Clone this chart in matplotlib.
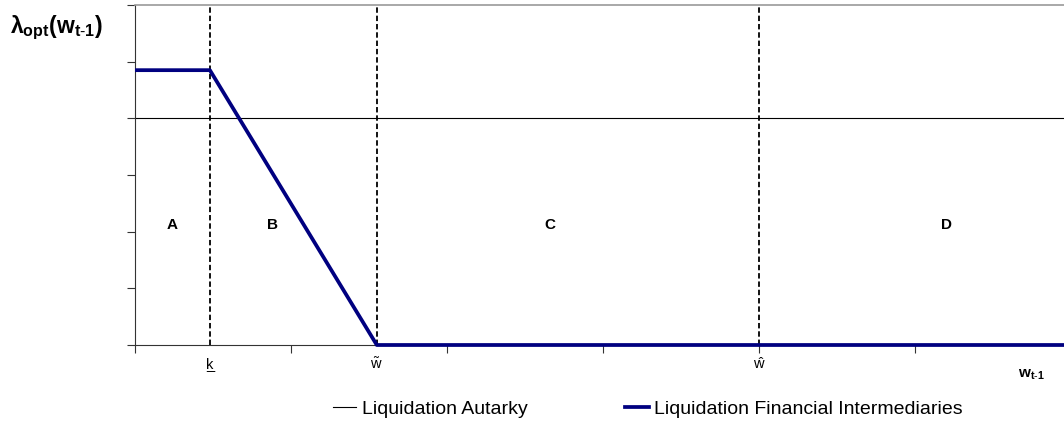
import matplotlib.pyplot as plt
import matplotlib.lines as mlines

plt.rcParams['font.family'] = ['Liberation Sans', 'DejaVu Sans']
plt.rcParams['mathtext.fontset'] = 'custom'
plt.rcParams['mathtext.rm'] = 'Liberation Sans'
plt.rcParams['mathtext.it'] = 'Liberation Sans'
plt.rcParams['mathtext.bf'] = 'Liberation Sans:bold'

# data
x_autarky = [0, 6]
y_autarky = [4, 4]
x_fi = [0, 0.48, 1.55, 6]
y_fi = [4.85, 4.85, 0, 0]
thresholds = [0.48, 1.55, 4.0]
threshold_labels = ["k", r"$\tilde{\mathrm{w}}$", r"$\hat{\mathrm{w}}$"]
regions = ["A", "B", "C", "D"]
region_x = [0.24, 0.88, 2.66, 5.2]
region_y = 2.12

fig = plt.figure(figsize=(10.64, 4.25), dpi=100)
ax = fig.add_axes([135 / 1064, 80 / 425, 936 / 1064, 340 / 425])

ax.plot(x_autarky, y_autarky, color="black", lw=0.8, zorder=2)
ax.plot(x_fi, y_fi, color="#000080", lw=2.7, solid_capstyle="butt", zorder=3, clip_on=False)

for xv in thresholds:
    ax.axvline(xv, color="black", lw=1.3, ls=(0, (3, 1.6)), zorder=1)

for xv, lab in zip(thresholds, threshold_labels):
    ax.text(xv, -0.42, lab, ha="center", va="baseline", fontsize=10.5)
# underline under k (lower bound)
ax.text(thresholds[0], -0.42, "_", ha="center", va="baseline", fontsize=10.5)

for xv, lab in zip(region_x, regions):
    ax.text(xv, region_y, lab, ha="center", va="center", fontsize=11, fontweight="bold")

ax.set_xlim(0, 6)
ax.set_ylim(0, 6)
ax.set_xticks(range(7))
ax.set_yticks(range(7))
ax.set_xticklabels([])
ax.set_yticklabels([])
ax.tick_params(direction="out", length=6, width=0.8, color="#333333")

ax.spines["right"].set_visible(False)
ax.spines["top"].set_color("#999999")
ax.spines["top"].set_linewidth(1.2)
ax.spines["left"].set_color("#333333")
ax.spines["bottom"].set_color("#333333")

fig.text(10 / 1064, 1 - 28 / 425, r"$\mathbf{λ_{opt}(w_{t\text{-}1})}$",
         fontsize=16.5, va="center", ha="left")
fig.text(1031 / 1064, 1 - 375 / 425, r"$\mathbf{w_{t\text{-}1}}$",
         fontsize=11, va="center", ha="center")

h1 = mlines.Line2D([], [], color="black", lw=0.8)
h2 = mlines.Line2D([], [], color="#000080", lw=2.7)
fig.legend([h1, h2], ["Liquidation Autarky", "Liquidation Financial Intermediaries"],
           loc="center", bbox_to_anchor=(648 / 1064, 1 - 409 / 425), ncol=2,
           frameon=False, fontsize=14, handlelength=1.2, handletextpad=0.3,
           columnspacing=5.0)

fig.savefig("out.png", dpi=100)
